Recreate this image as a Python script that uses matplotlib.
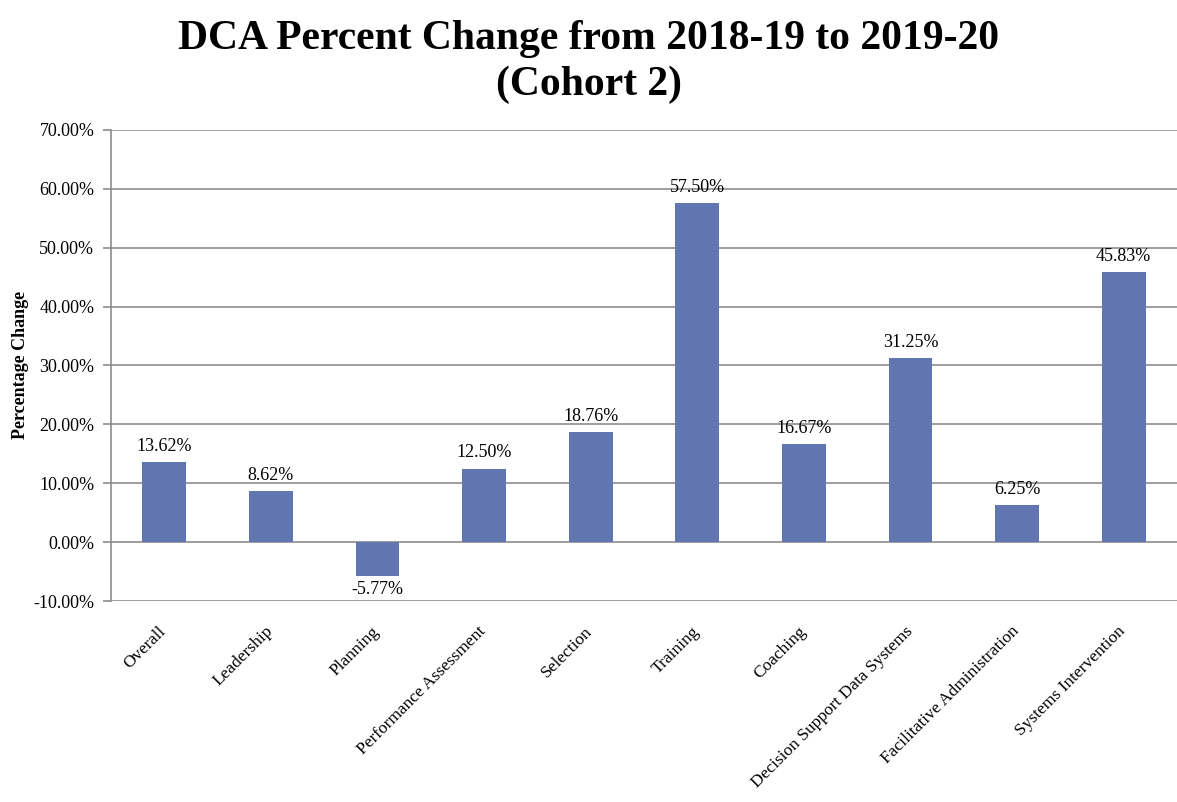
import numpy as np
import matplotlib.pyplot as plt
import matplotlib.transforms as mtransforms
from matplotlib.ticker import PercentFormatter

# Percent change by DCA category, cohort 2
categories = ['Overall', 'Leadership', 'Planning', 'Performance Assessment',
              'Selection', 'Training', 'Coaching', 'Decision Support Data Systems',
              'Facilitative Administration', 'Systems Intervention']
pct_change = [13.62, 8.62, -5.77, 12.50, 18.76, 57.50, 16.67, 31.25, 6.25, 45.83]

plt.rcParams['font.family'] = ['Liberation Serif', 'DejaVu Serif']
plt.rcParams['axes.unicode_minus'] = False

fig = plt.figure(figsize=(11.77, 8.02), dpi=100)
ax = fig.add_axes([0.0943, 0.2506, 0.9057, 0.5875])

x = np.arange(len(categories))
bars = ax.bar(x, pct_change, width=0.41, color='#6176b0', zorder=3)

for b, v in zip(bars, pct_change):
    if v >= 0:
        ax.text(b.get_x() + b.get_width() / 2, v + 1.2, f'{v:.2f}%',
                ha='center', va='bottom', fontsize=13)
    else:
        ax.text(b.get_x() + b.get_width() / 2, v - 0.8, f'{v:.2f}%',
                ha='center', va='top', fontsize=13)

ax.set_xlim(-0.5, len(categories) - 0.5)
ax.set_ylim(-10, 70)
ax.set_yticks(np.arange(-10, 71, 10))
ax.yaxis.set_major_formatter(PercentFormatter(decimals=2))
ax.grid(axis='y', color='#8c8c8c', linewidth=1.2, zorder=0)

for s in ['top', 'right', 'bottom']:
    ax.spines[s].set_visible(False)
ax.spines['left'].set_color('#8c8c8c')
ax.spines['left'].set_linewidth(1.2)
ax.tick_params(axis='y', length=6, color='#8c8c8c', width=1.2, labelsize=13, pad=6)
ax.tick_params(axis='x', length=0, pad=16)

ax.set_xticks(x)
ax.set_xticklabels(categories, rotation=45, ha='right', rotation_mode='anchor',
                   fontsize=12.5)
# nudge the slanted labels a little to the left
shift = mtransforms.ScaledTranslation(-6 / 100, 0, fig.dpi_scale_trans)
for lbl in ax.get_xticklabels():
    lbl.set_transform(lbl.get_transform() + shift)

ax.set_ylabel('Percentage Change', fontsize=13, fontweight='bold', labelpad=3)

fig.text(0.5, 0.975, 'DCA Percent Change from 2018-19 to 2019-20\n(Cohort 2)',
         ha='center', va='top', fontsize=30, fontweight='bold', linespacing=1.25)

fig.savefig('out.png', dpi=100)
